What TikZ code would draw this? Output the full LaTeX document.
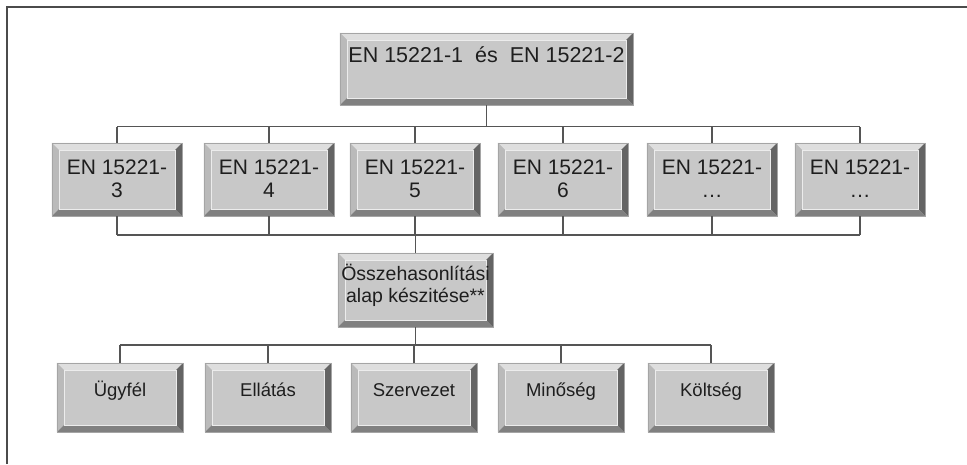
\documentclass[tikz,border=0pt]{standalone}
\usepackage{fontspec}
\setmainfont{Liberation Sans}
\usetikzlibrary{backgrounds}
\definecolor{face}{RGB}{200,200,200}
\definecolor{bvtop}{RGB}{222,222,222}
\definecolor{bvleft}{RGB}{186,186,186}
\definecolor{bvright}{RGB}{100,100,100}
\definecolor{bvbot}{RGB}{128,128,128}
\definecolor{edge}{RGB}{165,165,165}
\definecolor{txt}{RGB}{30,30,30}
\definecolor{conn}{RGB}{85,85,85}
\definecolor{frame}{RGB}{75,75,75}
\newcommand\bt[6]{\parbox[c][#2pt][t]{#1pt}{\centering\fontsize{#3pt}{#4pt}\selectfont\rule{0pt}{#5pt}#6}}
\newcommand\bevel[1]{%
  \fill[face] (#1.north west) rectangle (#1.south east);
  \fill[bvtop] (#1.north west) -- (#1.north east) -- ([shift={(-7pt,-7pt)}]#1.north east) -- ([shift={(7pt,-7pt)}]#1.north west) -- cycle;
  \fill[bvleft] (#1.north west) -- ([shift={(7pt,-7pt)}]#1.north west) -- ([shift={(7pt,7pt)}]#1.south west) -- (#1.south west) -- cycle;
  \fill[bvright] (#1.north east) -- (#1.south east) -- ([shift={(-7pt,7pt)}]#1.south east) -- ([shift={(-7pt,-7pt)}]#1.north east) -- cycle;
  \fill[bvbot] (#1.south west) -- (#1.south east) -- ([shift={(-7pt,7pt)}]#1.south east) -- ([shift={(7pt,7pt)}]#1.south west) -- cycle;
  \draw[edge, line width=0.6pt] (#1.north west) rectangle (#1.south east);
  \draw[white!85!gray, line width=0.5pt] ([shift={(7pt,-7pt)}]#1.north west) rectangle ([shift={(-7pt,7pt)}]#1.south east);
}
\begin{document}
\begin{tikzpicture}[x=1pt,y=-1pt,
  box/.style={inner sep=0pt, text=txt},
  conline/.style={draw=conn, line width=1.5pt}]
\useasboundingbox (0,0) rectangle (967,464);
\draw[frame, line width=2pt] (6.5,464) -- (6.5,6.5) -- (967,6.5);

% top
\node[box] (top) at (486.5,69) {\bt{293}{72}{21.5}{24}{29.5}{EN 15221-1\ \ és\ \ EN 15221-2}};
% level 2
\node[box] (a3) at (117,179.5) {\bt{130}{73}{21}{23.5}{31}{EN 15221-\\3}};
\node[box] (a4) at (269,179.5) {\bt{130}{73}{21}{23.5}{31}{EN 15221-\\4}};
\node[box] (a5) at (415,179.5) {\bt{130}{73}{21}{23.5}{31}{EN 15221-\\5}};
\node[box] (a6) at (563,179.5) {\bt{130}{73}{21}{23.5}{31}{EN 15221-\\6}};
\node[box] (a7) at (712,179.5) {\bt{130}{73}{21}{23.5}{31}{EN 15221-\\…}};
\node[box] (a8) at (860,179.5) {\bt{130}{73}{21}{23.5}{31}{EN 15221-\\…}};
% middle
\node[box] (mid) at (415.5,290) {\bt{155}{74}{19.5}{22}{27}{Összehasonlítási\\alap készitése**}};
% bottom
\node[box] (b1) at (120,397.5) {\bt{126}{69}{18.5}{22}{33}{Ügyfél}};
\node[box] (b2) at (268,397.5) {\bt{126}{69}{18.5}{22}{33}{Ellátás}};
\node[box] (b3) at (414,397.5) {\bt{126}{69}{18.5}{22}{33}{Szervezet}};
\node[box] (b4) at (561,397.5) {\bt{126}{69}{18.5}{22}{33}{Minőség}};
\node[box] (b5) at (711,397.5) {\bt{126}{69}{18.5}{22}{33}{Költség}};

\begin{pgfonlayer}{background}
\foreach \n in {top,a3,a4,a5,a6,a7,a8,mid,b1,b2,b3,b4,b5}{\bevel{\n}}
\end{pgfonlayer}

% buses
\coordinate (bus1) at (486,126.5);
\coordinate (bus2) at (415,235);
\coordinate (bus3) at (415,345);

\draw[conline] (top.south) -- (top.south |- bus1);
\draw[conline] (a3.north |- bus1) -- (a8.north |- bus1);
\foreach \n in {a3,a4,a5,a6,a7,a8}{\draw[conline] (\n.north) -- (\n.north |- bus1);}

\draw[conline] (a3.south |- bus2) -- (a8.south |- bus2);
\foreach \n in {a3,a4,a5,a6,a7,a8}{\draw[conline] (\n.south) -- (\n.south |- bus2);}
\draw[conline] (mid.north) -- (mid.north |- bus2);

\draw[conline] (mid.south) -- (mid.south |- bus3);
\draw[conline] (b1.north |- bus3) -- (b5.north |- bus3);
\foreach \n in {b1,b2,b3,b4,b5}{\draw[conline] (\n.north) -- (\n.north |- bus3);}
\end{tikzpicture}
\end{document}
